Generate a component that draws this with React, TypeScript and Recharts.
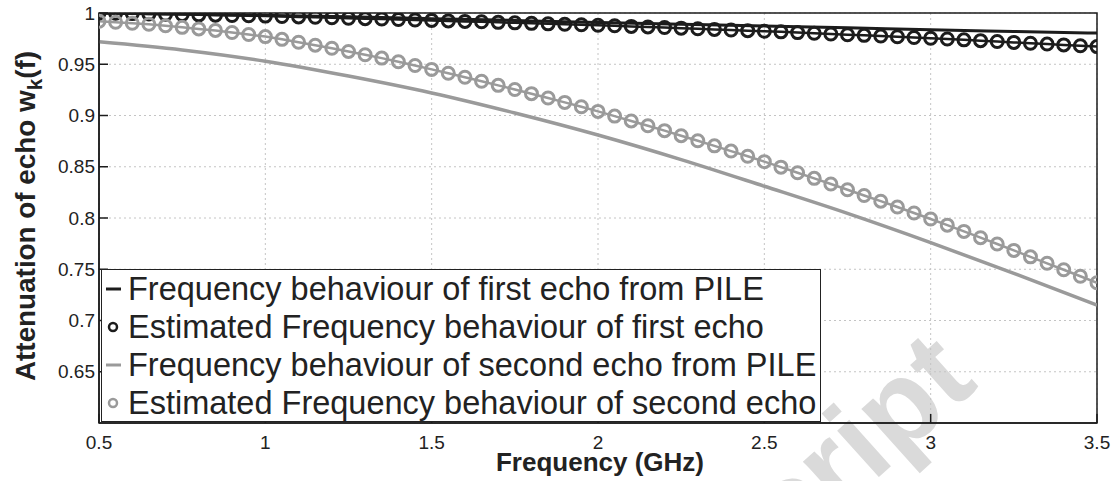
import React from "react";
import {
  LineChart,
  Line,
  XAxis,
  YAxis,
  CartesianGrid,
  Legend,
  Label,
  ReferenceArea,
} from "recharts";

// PILE model curves
const freqPile = [0.5, 0.75, 1, 1.25, 1.5, 1.75, 2, 2.25, 2.5, 2.75, 3, 3.25, 3.5];
const firstEchoPile = [
  0.9998, 0.999, 0.9978, 0.9963, 0.9945, 0.9927, 0.9908, 0.9891, 0.9874, 0.9855,
  0.9836, 0.982, 0.9804,
];
const secondEchoPile = [
  0.972, 0.964, 0.953, 0.9385, 0.922, 0.9025, 0.881, 0.857, 0.831, 0.8045, 0.776,
  0.746, 0.715,
];

// estimated curves (one marker every 0.05 GHz)
const freqEst = [
  0.5, 0.55, 0.6, 0.65, 0.7, 0.75, 0.8, 0.85, 0.9, 0.95, 1, 1.05, 1.1, 1.15, 1.2,
  1.25, 1.3, 1.35, 1.4, 1.45, 1.5, 1.55, 1.6, 1.65, 1.7, 1.75, 1.8, 1.85, 1.9,
  1.95, 2, 2.05, 2.1, 2.15, 2.2, 2.25, 2.3, 2.35, 2.4, 2.45, 2.5, 2.55, 2.6,
  2.65, 2.7, 2.75, 2.8, 2.85, 2.9, 2.95, 3, 3.05, 3.1, 3.15, 3.2, 3.25, 3.3,
  3.35, 3.4, 3.45, 3.5,
];
const firstEchoEst = [
  1.0, 0.9997, 0.9994, 0.9991, 0.9988, 0.9985, 0.9982, 0.9979, 0.9976, 0.9973,
  0.997, 0.9966, 0.9962, 0.9958, 0.9954, 0.9949, 0.9945, 0.9941, 0.9937, 0.9932,
  0.9928, 0.9923, 0.9918, 0.9914, 0.9909, 0.9904, 0.9899, 0.9894, 0.989, 0.9885,
  0.988, 0.9875, 0.9869, 0.9864, 0.9858, 0.9852, 0.9846, 0.984, 0.9834, 0.9828,
  0.9822, 0.9816, 0.9809, 0.9802, 0.9795, 0.9788, 0.9782, 0.9775, 0.9768, 0.9761,
  0.9754, 0.9746, 0.9738, 0.973, 0.9722, 0.9713, 0.9705, 0.9697, 0.9689, 0.968,
  0.9672,
];
const secondEchoEst = [
  0.992, 0.991, 0.99, 0.989, 0.9875, 0.986, 0.9845, 0.983, 0.981, 0.979, 0.977,
  0.9743, 0.9715, 0.9686, 0.9656, 0.9625, 0.9593, 0.956, 0.9524, 0.9488, 0.945,
  0.9412, 0.9373, 0.9334, 0.9294, 0.9254, 0.9213, 0.9171, 0.9128, 0.9085, 0.904,
  0.8994, 0.8947, 0.89, 0.8852, 0.8803, 0.8754, 0.8704, 0.8653, 0.8602, 0.855,
  0.8496, 0.8442, 0.8387, 0.8332, 0.8276, 0.822, 0.8164, 0.8107, 0.8049, 0.799,
  0.793, 0.7869, 0.7808, 0.7746, 0.7684, 0.7621, 0.7558, 0.7495, 0.7432, 0.7368,
];

const xTicks = [0.5, 1, 1.5, 2, 2.5, 3, 3.5];
const yTicks = [0.65, 0.7, 0.75, 0.8, 0.85, 0.9, 0.95, 1];

const legendNames = [
  "Frequency behaviour of first echo from PILE",
  "Estimated Frequency behaviour of first echo",
  "Frequency behaviour of second echo from PILE",
  "Estimated Frequency behaviour of second echo",
];

const BLACK = "#1c1c1c";
const GREY = "#9a9a9a";
const FONT = "'Liberation Sans', Arial, Helvetica, sans-serif";

const pileData = freqPile.map((f, i) => ({
  f,
  first: firstEchoPile[i],
  second: secondEchoPile[i],
}));
const estData = freqEst.map((f, i) => ({
  f,
  first: firstEchoEst[i],
  second: secondEchoEst[i],
}));

const legendItems = [
  { name: legendNames[0], color: BLACK, marker: false },
  { name: legendNames[1], color: BLACK, marker: true },
  { name: legendNames[2], color: GREY, marker: false },
  { name: legendNames[3], color: GREY, marker: true },
];

const tickStyle = { fill: "#222", fontSize: 19, fontFamily: FONT };

const LegendBox = () => (
  <div
    style={{
      width: 720,
      height: 153,
      boxSizing: "border-box",
      border: "1.5px solid #222",
      background: "#fff",
      fontFamily: FONT,
      fontSize: 32.5,
      color: "#222",
    }}
  >
    {legendItems.map((it) => (
      <div
        key={it.name}
        style={{ display: "flex", alignItems: "center", height: 38, lineHeight: "38px" }}
      >
        <svg width={26} height={38} style={{ flex: "none" }}>
          {it.marker ? (
            <circle cx={11} cy={19} r={4} fill="none" stroke={it.color} strokeWidth={2.5} />
          ) : (
            <line x1={4} x2={19} y1={19} y2={19} stroke={it.color} strokeWidth={3} />
          )}
        </svg>
        <span style={{ whiteSpace: "nowrap" }}>{it.name}</span>
      </div>
    ))}
  </div>
);

const YTitle = () => (
  <text
    x={35}
    y={216}
    transform="rotate(-90, 35, 216)"
    textAnchor="middle"
    fontFamily={FONT}
    fontWeight="bold"
    fontSize={27}
    fill="#222"
    textLength={330}
    lengthAdjust="spacingAndGlyphs"
  >
    Attenuation of echo w
    <tspan dy={7} fontSize={20}>k</tspan>
    <tspan dy={-7}>(f)</tspan>
  </text>
);

const XTitle = () => (
  <text
    x={600}
    y={471}
    textAnchor="middle"
    fontFamily={FONT}
    fontWeight="bold"
    fontSize={26}
    fill="#222"
  >
    Frequency (GHz)
  </text>
);

export default function App() {
  return (
    <div
      style={{
        position: "absolute",
        left: 0,
        top: 0,
        width: 1119,
        height: 481,
        background: "#fff",
        overflow: "hidden",
      }}
    >
      <svg width={1119} height={481} style={{ position: "absolute", left: 0, top: 0 }}>
        <text
          x={980}
          y={386}
          transform="rotate(-42, 980, 386)"
          textAnchor="end"
          fontFamily={FONT}
          fontWeight="bold"
          fontSize={118}
          fill="#dadada"
        >
          script
        </text>
      </svg>
      <div style={{ position: "absolute", left: 0, top: 0 }}>
        <LineChart
          width={1119}
          height={481}
          margin={{ top: 13, right: 22, bottom: 0, left: 0 }}
        >
          <CartesianGrid
            stroke="#c4c4c4"
            strokeDasharray="2 3"
            strokeWidth={1}
          />
          <XAxis
            xAxisId={0}
            dataKey="f"
            type="number"
            domain={[0.5, 3.5]}
            ticks={xTicks}
            allowDataOverflow
            height={58}
            tickSize={-9}
            tickMargin={22}
            tick={tickStyle}
            stroke={BLACK}
            strokeWidth={1.5}
          >
            <Label content={() => <XTitle />} />
          </XAxis>
          <XAxis
            xAxisId="top"
            orientation="top"
            dataKey="f"
            type="number"
            domain={[0.5, 3.5]}
            ticks={xTicks}
            height={0}
            tickSize={-9}
            tick={false}
            stroke={BLACK}
            strokeWidth={1.5}
          />
          <YAxis
            yAxisId={0}
            type="number"
            domain={[0.6, 1]}
            ticks={yTicks}
            allowDataOverflow
            width={99}
            tickSize={-9}
            tickMargin={13}
            tick={tickStyle}
            stroke={BLACK}
            strokeWidth={1.5}
          >
            <Label content={() => <YTitle />} />
          </YAxis>
          <YAxis
            yAxisId="right"
            orientation="right"
            type="number"
            domain={[0.6, 1]}
            ticks={yTicks}
            width={0}
            tickSize={-9}
            tick={false}
            stroke={BLACK}
            strokeWidth={1.5}
          />
          <ReferenceArea
            x1={0.5}
            x2={3.5}
            y1={0.6}
            y2={1}
            fill="none"
            stroke={BLACK}
            strokeWidth={1.5}
            ifOverflow="visible"
          />
          <Legend
            layout="vertical"
            align="center"
            verticalAlign="middle"
            wrapperStyle={{ left: 101, top: 269, width: 720, height: 153 }}
            content={() => <LegendBox />}
          />
          <Line
            data={pileData}
            dataKey="first"
            type="monotone"
            stroke={BLACK}
            strokeWidth={3}
            dot={false}
            activeDot={false}
            isAnimationActive={false}
          />
          <Line
            data={estData}
            dataKey="first"
            type="linear"
            stroke={BLACK}
            strokeWidth={2.5}
            dot={{ r: 6, stroke: BLACK, strokeWidth: 3, fill: "none" }}
            activeDot={false}
            isAnimationActive={false}
          />
          <Line
            data={pileData}
            dataKey="second"
            type="monotone"
            stroke={GREY}
            strokeWidth={3.5}
            dot={false}
            activeDot={false}
            isAnimationActive={false}
          />
          <Line
            data={estData}
            dataKey="second"
            type="linear"
            stroke={GREY}
            strokeWidth={2.5}
            dot={{ r: 6, stroke: GREY, strokeWidth: 3, fill: "none" }}
            activeDot={false}
            isAnimationActive={false}
          />
        </LineChart>
      </div>
    </div>
  );
}
